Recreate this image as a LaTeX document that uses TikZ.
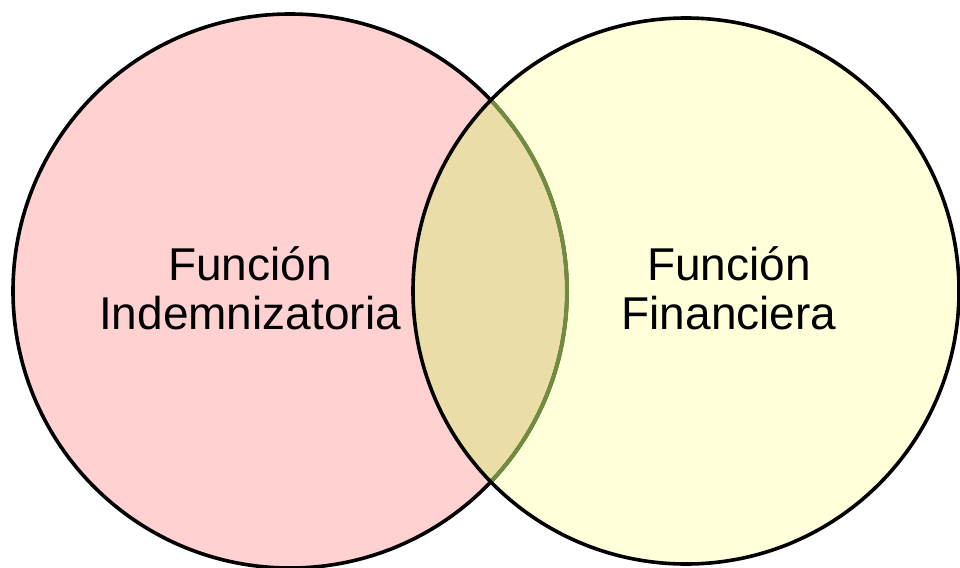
\documentclass[tikz,border=0pt]{standalone}
\usepackage{fontspec}
\setmainfont{Liberation Sans}
\definecolor{pinkfill}{RGB}{255,209,209}
\definecolor{yellowfill}{RGB}{255,255,217}
\definecolor{overlapfill}{RGB}{234,221,168}
\definecolor{olive}{RGB}{112,140,64}
\begin{document}
\begin{tikzpicture}[x=1pt,y=-1pt,
  setlabel/.style={align=center,font=\fontsize{46}{49}\selectfont,inner sep=0pt},
  ring/.style={line width=3.6pt}]
\useasboundingbox (0,0) rectangle (960,567);
\fill[pinkfill] (290,291) circle[radius=277];
\fill[yellowfill] (686,291) circle[radius=273];
\begin{scope}
  \clip (290,291) circle[radius=277];
  \fill[overlapfill] (686,291) circle[radius=273];
\end{scope}
\draw[ring,black] (290,291) circle[radius=277];
\begin{scope}
  \clip (686,291) circle[radius=273];
  \draw[ring,olive,line width=4pt] (290,291) circle[radius=277];
\end{scope}
\draw[ring,black] (686,291) circle[radius=273];
\node[setlabel] (left) at (250,288) {Función\\Indemnizatoria};
\node[setlabel] (right) at (729,288) {Función\\Financiera};
\end{tikzpicture}
\end{document}
